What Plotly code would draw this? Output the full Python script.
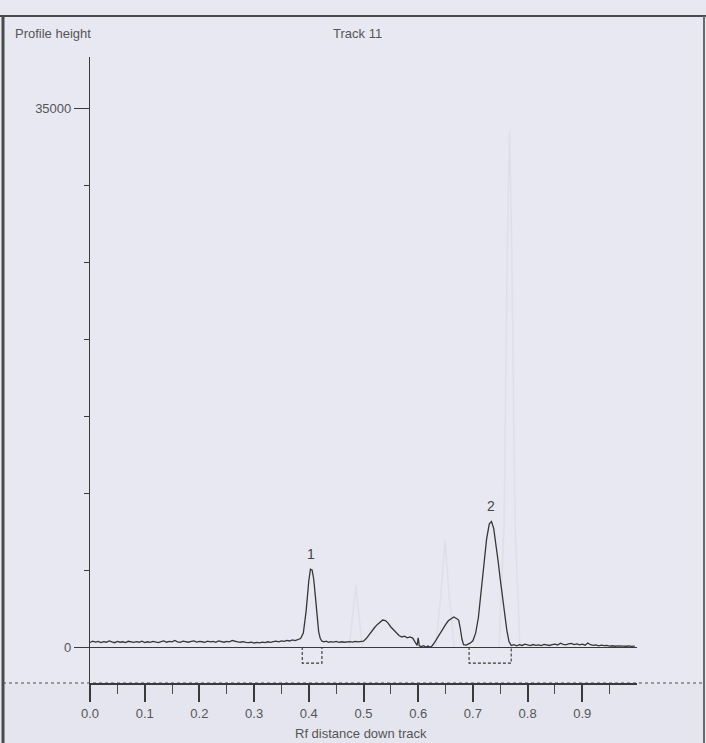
import plotly.graph_objects as go

# ---------------- data ----------------
rf = [0.000,0.005,0.010,0.015,0.020,0.025,0.030,0.035,0.040,0.045,0.050,0.055,0.060,0.065,0.070,0.075,
      0.080,0.085,0.090,0.095,0.100,0.105,0.110,0.115,0.120,0.125,0.130,0.135,0.140,0.145,0.150,0.155,
      0.160,0.165,0.170,0.175,0.180,0.185,0.190,0.195,0.200,0.205,0.210,0.215,0.220,0.225,0.230,0.235,
      0.240,0.245,0.250,0.255,0.260,0.265,0.270,0.275,0.280,0.285,0.290,0.295,0.300,0.305,0.310,0.315,
      0.320,0.325,0.330,0.335,0.340,0.345,0.350,0.355,0.360,0.365,0.370,0.375,0.380,0.385,0.390,0.395,
      0.400,0.403,0.406,0.409,0.412,0.415,0.418,0.421,0.424,0.428,0.432,0.436,0.440,0.445,0.450,0.455,
      0.460,0.465,0.470,0.475,0.480,0.485,0.490,0.495,0.500,0.505,0.510,0.515,0.520,0.525,0.530,0.535,
      0.540,0.545,0.550,0.555,0.560,0.565,0.570,0.575,0.580,0.585,0.590,0.595,0.598,0.600,0.602,0.606,
      0.610,0.614,0.618,0.622,0.626,0.630,0.635,0.640,0.645,0.650,0.655,0.660,0.665,0.670,0.674,0.677,
      0.680,0.683,0.688,0.692,0.695,0.700,0.705,0.710,0.715,0.720,0.725,0.730,0.734,0.738,0.742,0.746,
      0.750,0.754,0.758,0.762,0.766,0.770,0.775,0.780,0.785,0.790,0.795,0.800,0.805,0.810,0.815,0.820,
      0.825,0.830,0.835,0.840,0.845,0.850,0.855,0.860,0.865,0.870,0.875,0.880,0.885,0.890,0.895,0.900,
      0.905,0.910,0.915,0.920,0.925,0.930,0.935,0.940,0.945,0.950,0.955,0.960,0.965,0.970,0.975,0.980,
      0.985,0.990,0.996]
height = [300,380,320,360,290,350,310,400,330,280,360,310,340,290,370,320,
          300,350,310,380,290,340,300,360,320,280,350,400,310,370,330,420,
          340,300,380,350,310,360,400,320,370,340,300,380,330,360,300,390,
          340,310,370,330,420,360,330,310,350,300,280,320,260,300,270,320,
          290,340,300,350,380,330,400,370,430,390,460,420,480,550,900,2300,
          4300,5050,5000,4400,3300,2000,1000,550,380,330,380,300,350,320,360,300,
          340,310,330,350,320,360,330,340,380,550,800,1050,1250,1450,1600,1750,
          1720,1550,1300,1100,900,750,650,700,600,650,580,300,100,600,80,20,
          80,0,60,-20,100,300,600,900,1200,1450,1700,1850,1950,1850,1750,1200,
          500,150,120,200,250,400,900,1900,3500,5400,7000,8000,8150,7700,6800,5600,
          4400,3300,2100,1100,350,100,150,80,150,100,180,120,90,160,110,140,
          90,170,120,100,150,180,130,250,170,140,200,230,160,200,140,180,
          120,260,150,110,140,80,120,90,110,60,80,50,70,40,60,50,
          70,40,60]

# faint bleed-through profile visible on the scan
ghost_rf = [0.474, 0.481, 0.486, 0.491, 0.498, None, 0.632, 0.641, 0.649, 0.657, 0.666, None,
            0.748, 0.757, 0.763, 0.767, 0.771, 0.777, 0.786]
ghost_h = [0, 2200, 4000, 2200, 0, None, 0, 3200, 6900, 3200, 0, None,
           0, 8000, 26000, 33500, 26000, 8000, 0]

peak_labels = ["1", "2"]
peak_rf = [0.404, 0.733]
peak_h = [5050, 8150]
peak_bounds = [(0.388, 0.424), (0.693, 0.770)]
bound_depth = -1050

x_major = [0.0, 0.1, 0.2, 0.3, 0.4, 0.5, 0.6, 0.7, 0.8, 0.9]
x_minor = [0.05, 0.15, 0.25, 0.35, 0.45, 0.55, 0.65, 0.75, 0.85, 0.95]
y_major = [0, 35000]
y_minor = [5000, 10000, 15000, 20000, 25000, 30000]

# ---------------- style ----------------
W, H = 706, 743
BG = "rgb(232,232,243)"
INK = "#363636"
TXT = "#555555"
FONT = "Liberation Sans, Arial, sans-serif"
FS = 13

def px_x(p):
    return p / W

def px_y(p):
    return 1 - p / H

fig = go.Figure()

fig.add_trace(go.Scatter(x=ghost_rf, y=ghost_h, mode="lines",
                         line=dict(color="rgb(223,223,234)", width=1.6),
                         hoverinfo="skip", showlegend=False, connectgaps=False))

fig.add_trace(go.Scatter(x=rf, y=height, mode="lines",
                         line=dict(color=INK, width=1.3),
                         showlegend=False))

for a, b in peak_bounds:
    fig.add_trace(go.Scatter(x=[a, a, b, b], y=[0, bound_depth, bound_depth, 0],
                             mode="lines", line=dict(color=INK, width=1.1, dash="3px,2px"),
                             showlegend=False, hoverinfo="skip"))

for lab, xr, yh in zip(peak_labels, peak_rf, peak_h):
    fig.add_annotation(x=xr, y=yh, xref="x", yref="y", text=lab, showarrow=False,
                       yanchor="bottom", yshift=5, font=dict(family=FONT, size=14, color="#444444"))

# titles
fig.add_annotation(x=px_x(13), y=px_y(34), xref="paper", yref="paper", text="Profile height",
                   showarrow=False, xanchor="left", yanchor="middle",
                   font=dict(family=FONT, size=FS, color=TXT))
fig.add_annotation(x=px_x(358), y=px_y(34), xref="paper", yref="paper", text="Track 11",
                   showarrow=False, xanchor="center", yanchor="middle",
                   font=dict(family=FONT, size=FS, color=TXT))
fig.add_annotation(x=0.495, y=0, xref="x", yref="paper", text="Rf distance down track",
                   showarrow=False, xanchor="center", yanchor="bottom",
                   font=dict(family=FONT, size=FS, color=TXT))

# frame
shapes = [
    dict(type="rect", xref="paper", yref="paper", x0=px_x(3), x1=px_x(704), y0=0, y1=px_y(684),
         fillcolor="rgb(229,229,239)", line=dict(width=0), layer="below"),
    dict(type="line", xref="paper", yref="paper", x0=px_x(3), x1=px_x(704), y0=px_y(683), y1=px_y(683),
         line=dict(color="#9a9a9a", width=2, dash="dot"), layer="below"),
    dict(type="line", xref="paper", yref="paper", x0=0, x1=1, y0=px_y(16), y1=px_y(16),
         line=dict(color="#4a4a4a", width=2)),
    dict(type="line", xref="paper", yref="paper", x0=px_x(3), x1=px_x(3), y0=px_y(16), y1=0,
         line=dict(color="#4a4a4a", width=3)),
    dict(type="line", xref="paper", yref="paper", x0=px_x(704), x1=px_x(704), y0=px_y(16), y1=0,
         line=dict(color="#6a6a6a", width=2)),
]

y_bottom_px, y_top_px = 683, 57
zero_px = 647
per_px = 5000 / 77.0
y_range = [(zero_px - y_bottom_px) * per_px, (zero_px - y_top_px) * per_px]

fig.update_layout(
    width=W, height=H,
    margin=dict(l=0, r=0, t=0, b=0, autoexpand=False),
    paper_bgcolor=BG, plot_bgcolor="rgba(0,0,0,0)",
    shapes=shapes,
    xaxis=dict(domain=[px_x(90), px_x(637)], range=[0, 1.0], showgrid=False, zeroline=False,
               automargin=False,
               showline=True, linecolor="#3a3a3a", linewidth=1.8, anchor="y",
               tickmode="array", tickvals=x_major, ticktext=[f"{v:.1f}" for v in x_major],
               ticks="outside", ticklen=17, tickwidth=1.5, tickcolor="#3a3a3a",
               minor=dict(tickmode="array", tickvals=x_minor, ticks="outside", ticklen=9,
                          tickwidth=1.3, tickcolor="#4a4a4a"),
               tickfont=dict(family=FONT, size=FS, color=TXT), fixedrange=True),
    yaxis=dict(domain=[px_y(y_bottom_px), px_y(y_top_px)], range=y_range, showgrid=False,
               automargin=False,
               zeroline=True, zerolinecolor="#3a3a3a", zerolinewidth=1.2,
               showline=True, linecolor="#3a3a3a", linewidth=1.2, anchor="x",
               tickmode="array", tickvals=y_major, ticktext=["0", "35000"],
               ticks="outside", ticklen=15, tickwidth=1.2, tickcolor="#3a3a3a",
               minor=dict(tickmode="array", tickvals=y_minor, ticks="outside", ticklen=5,
                          tickwidth=1, tickcolor="#3a3a3a"),
               tickfont=dict(family=FONT, size=FS, color=TXT), fixedrange=True),
)

fig.write_html("out.html")
